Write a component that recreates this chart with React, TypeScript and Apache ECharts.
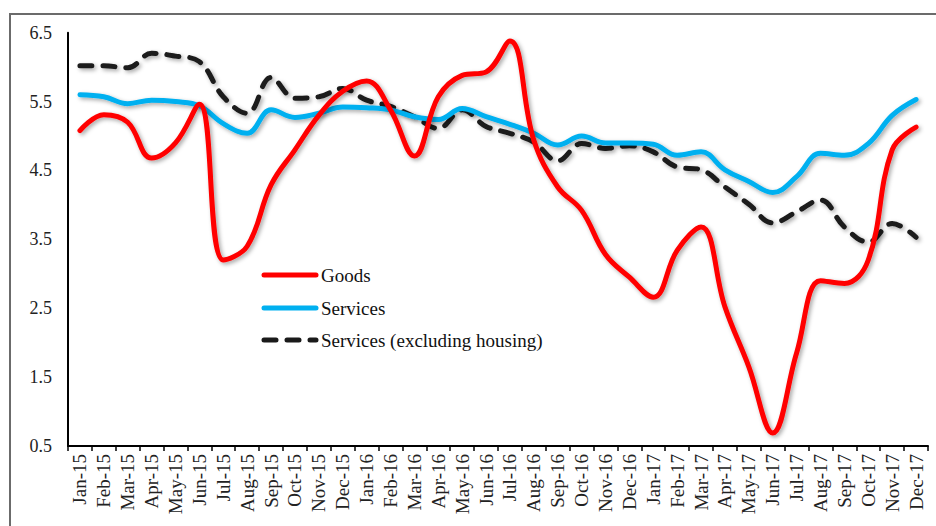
import React, { useEffect, useRef } from "react";
import * as echarts from "echarts";

const categories = [
  "Jan-15", "Feb-15", "Mar-15", "Apr-15", "May-15", "Jun-15", "Jul-15", "Aug-15", "Sep-15", "Oct-15", "Nov-15", "Dec-15",
  "Jan-16", "Feb-16", "Mar-16", "Apr-16", "May-16", "Jun-16", "Jul-16", "Aug-16", "Sep-16", "Oct-16", "Nov-16", "Dec-16",
  "Jan-17", "Feb-17", "Mar-17", "Apr-17", "May-17", "Jun-17", "Jul-17", "Aug-17", "Sep-17", "Oct-17", "Nov-17", "Dec-17",
];

const goods = [
  5.08, 5.31, 5.2, 4.68, 4.9, 5.46, 3.2, 3.4, 4.29, 4.8, 5.3, 5.65,
  5.8, 5.38, 4.71, 5.57, 5.88, 5.93, 6.38, 4.94, 4.26, 3.92, 3.28, 2.95,
  2.66, 3.34, 3.68, 2.52, 1.65, 0.69, 1.85, 2.9, 2.86, 3.2, 4.8, 5.13,
];

const services = [
  5.6, 5.57, 5.47, 5.52, 5.5, 5.44, 5.18, 5.04, 5.38, 5.27, 5.33, 5.42,
  5.41, 5.38, 5.28, 5.24, 5.4, 5.28, 5.17, 5.04, 4.87, 5.0, 4.9, 4.9,
  4.88, 4.72, 4.77, 4.51, 4.34, 4.18, 4.41, 4.75, 4.72, 4.89, 5.3, 5.53,
];

const servicesExHousing = [
  6.02, 6.02, 5.99, 6.2, 6.16, 6.08, 5.57, 5.33, 5.85, 5.55, 5.57, 5.69,
  5.52, 5.43, 5.28, 5.11, 5.38, 5.14, 5.04, 4.91, 4.64, 4.89, 4.82, 4.86,
  4.77, 4.55, 4.51, 4.26, 4.01, 3.74, 3.9, 4.07, 3.68, 3.46, 3.73, 3.53,
];

const seriesNames = ["Goods", "Services", "Services (excluding housing)"];
const seriesColors = ["#ff0000", "#00b0f0", "#1a1a1a"];
const seriesDash: (number[] | "solid")[] = ["solid", "solid", [12, 11]];

const FONT = "'Liberation Serif', 'DejaVu Serif', serif";

export default function App() {
  const ref = useRef<HTMLDivElement>(null);
  useEffect(() => {
    if (!ref.current) return;
    const chart = echarts.init(ref.current, undefined, { renderer: "svg" });
    const shadow = {
      shadowColor: "rgba(0,0,0,0.35)",
      shadowBlur: 4,
      shadowOffsetX: 2,
      shadowOffsetY: 2,
    };
    const legendYs = [275, 308, 340];
    const legendGraphics: any[] = [];
    seriesNames.forEach((name, i) => {
      legendGraphics.push({
        type: "line",
        shape: { x1: 264, y1: legendYs[i], x2: 316, y2: legendYs[i] },
        style: {
          stroke: seriesColors[i],
          lineWidth: 5,
          lineCap: "round",
          lineDash: seriesDash[i] === "solid" ? null : seriesDash[i],
        },
        silent: true,
        z: 10,
      });
      legendGraphics.push({
        type: "text",
        x: 321,
        y: legendYs[i],
        style: {
          text: name,
          fill: "#111",
          font: `19px ${FONT}`,
          textVerticalAlign: "middle",
          verticalAlign: "middle",
        },
        silent: true,
        z: 10,
      });
    });
    chart.setOption({
      animation: false,
      backgroundColor: "#ffffff",
      graphic: [
        {
          type: "rect",
          shape: { x: 10, y: 14, width: 960, height: 560 },
          style: { fill: "none", stroke: "#6b6b6b", lineWidth: 2 },
          silent: true,
          z: -10,
        },
        ...legendGraphics,
      ],
      grid: { left: 68, right: 8, top: 32.7, bottom: 80, containLabel: false },
      xAxis: {
        type: "category",
        data: categories,
        boundaryGap: true,
        axisLine: { lineStyle: { color: "#000", width: 2 } },
        axisTick: { show: true, length: 5, lineStyle: { color: "#000", width: 1.5 } },
        axisLabel: {
          rotate: 90,
          interval: 0,
          margin: 8,
          fontFamily: FONT,
          fontSize: 19,
          color: "#222",
        },
        splitLine: { show: false },
      },
      yAxis: {
        type: "value",
        min: 0.5,
        max: 6.5,
        interval: 0.5,
        axisLine: { show: true, lineStyle: { color: "#000", width: 2 } },
        axisTick: { show: false },
        splitLine: { show: false },
        axisLabel: {
          margin: 16,
          fontFamily: FONT,
          fontSize: 18,
          color: "#222",
          formatter: (v: number) => (Math.round(v * 2) % 2 === 1 ? v.toFixed(1) : ""),
        },
      },
      series: seriesNames.map((name, i) => ({
        name,
        type: "line",
        data: [goods, services, servicesExHousing][i],
        smooth: 0.4,
        showSymbol: false,
        symbol: "none",
        color: seriesColors[i],
        lineStyle: {
          color: seriesColors[i],
          width: 5,
          type: seriesDash[i],
          cap: "round",
          ...shadow,
        },
        z: 3 - i,
      })),
    });
    return () => chart.dispose();
  }, []);
  return (
    <div
      ref={ref}
      style={{ position: "fixed", left: 0, top: 0, width: 936, height: 526, background: "#fff" }}
    />
  );
}
